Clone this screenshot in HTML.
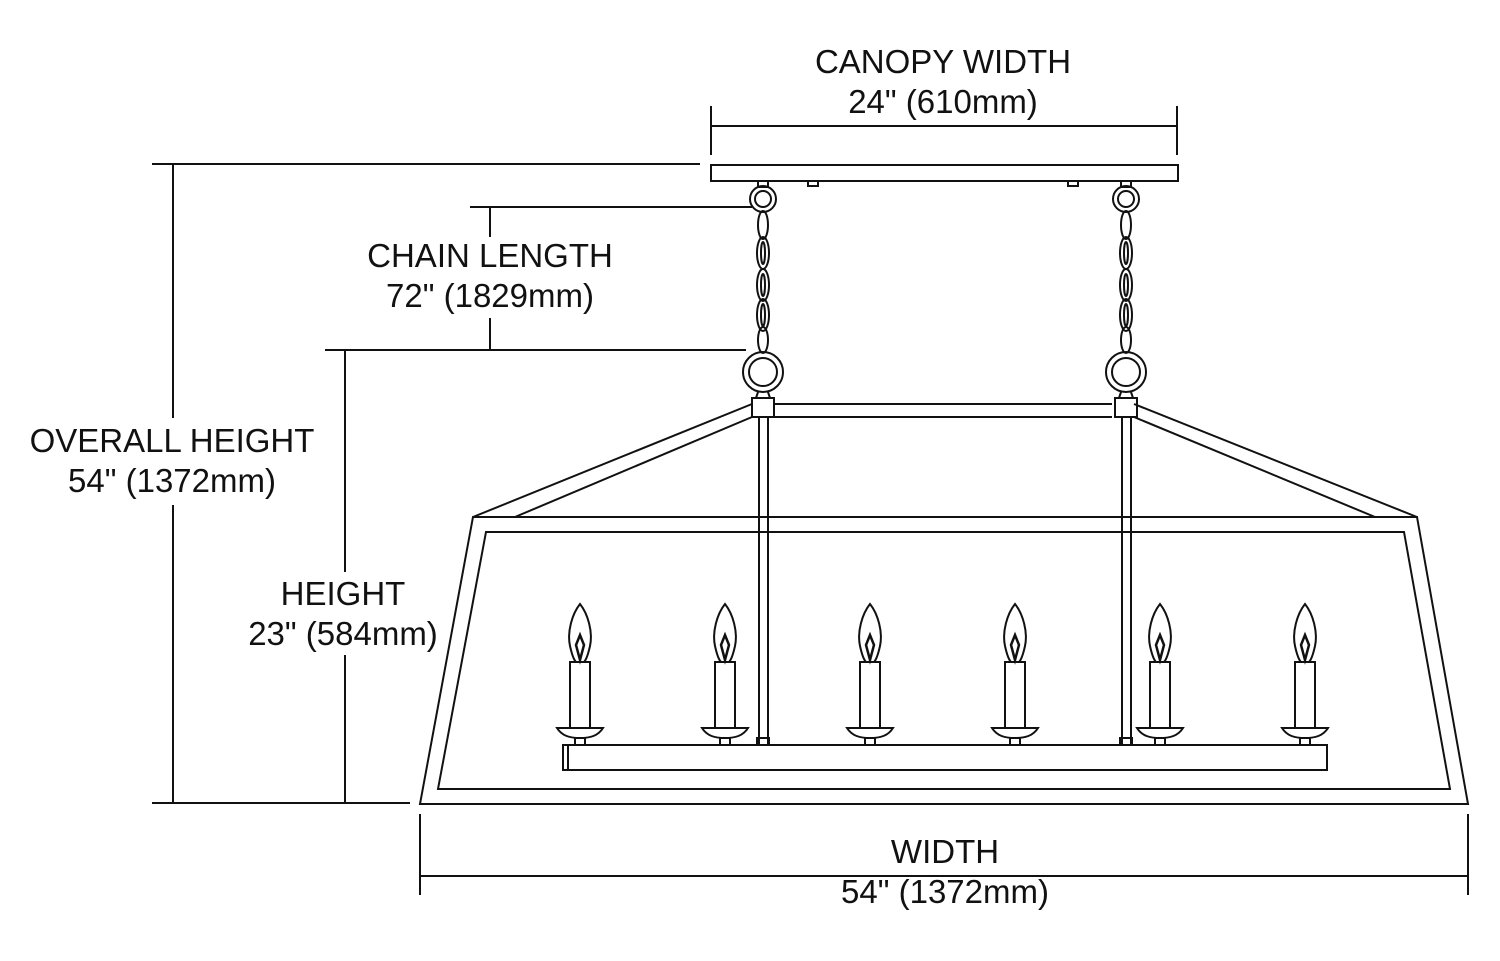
<!DOCTYPE html>
<html><head><style>
html,body{margin:0;padding:0;background:#fff;}
svg{display:block;}
text{font-family:"Liberation Sans",Arial,sans-serif;font-size:33px;fill:#111;text-anchor:middle;}
</style></head><body>
<svg width="1500" height="961" viewBox="0 0 1500 961" xmlns="http://www.w3.org/2000/svg">
<g stroke="#111" stroke-width="2" fill="none">
<line x1="711" y1="106" x2="711" y2="155"/><line x1="1177" y1="106" x2="1177" y2="155"/>
<line x1="711" y1="126" x2="1177" y2="126"/>
<line x1="152" y1="164" x2="700" y2="164"/>
<line x1="173" y1="164" x2="173" y2="418"/><line x1="173" y1="505" x2="173" y2="803"/>
<line x1="152" y1="803" x2="410" y2="803"/>
<line x1="470" y1="207" x2="752" y2="207"/>
<line x1="490" y1="207" x2="490" y2="237"/><line x1="490" y1="318" x2="490" y2="350"/>
<line x1="325" y1="350" x2="746" y2="350"/>
<line x1="345" y1="350" x2="345" y2="572"/><line x1="345" y1="655" x2="345" y2="803"/>
<line x1="420" y1="814" x2="420" y2="895"/><line x1="1468" y1="814" x2="1468" y2="895"/>
<line x1="420" y1="876" x2="1468" y2="876"/>
<rect x="711" y="165" width="467" height="16"/>
<rect x="808" y="181" width="10" height="5"/><rect x="1068" y="181" width="10" height="5"/>
<g id="ch">
<rect x="758" y="181" width="10" height="6"/>
<circle cx="763" cy="199" r="13"/><circle cx="763" cy="199" r="8"/>
<ellipse cx="763" cy="225" rx="5" ry="14"/>
<ellipse cx="763" cy="253" rx="6" ry="16"/><ellipse cx="763" cy="253" rx="2" ry="11"/>
<ellipse cx="763" cy="285" rx="6" ry="16"/><ellipse cx="763" cy="285" rx="2" ry="11"/>
<ellipse cx="763" cy="315" rx="6" ry="16"/><ellipse cx="763" cy="315" rx="2" ry="11"/>
<ellipse cx="763" cy="340" rx="5" ry="13"/>
<circle cx="763" cy="372" r="20"/><circle cx="763" cy="372" r="14"/>
<path d="M758 392 L756 398 L770 398 L768 392"/>
<rect x="752" y="398" width="22" height="19"/>
<rect x="759" y="417" width="9" height="328"/>
<rect x="757" y="738" width="12" height="7"/>
</g>
<use href="#ch" x="1125" y="0" transform="translate(-762 0)"/>
<line x1="774" y1="404" x2="1112" y2="404"/><line x1="774" y1="417" x2="1112" y2="417"/>
<line x1="752" y1="404" x2="473" y2="517"/><line x1="752" y1="417" x2="515" y2="517"/>
<line x1="1134" y1="404" x2="1417" y2="517"/><line x1="1134" y1="417" x2="1375" y2="517"/>
<polygon points="473,517 1417,517 1468,804 420,804"/>
<polygon points="486,532 1404,532 1450,789 438,789"/>
<rect x="563" y="745" width="764" height="25"/>
<line x1="568" y1="745" x2="568" y2="770"/>
<g id="cd">
<path d="M580 604 C572 614 567 632 570 646 C572 655 574 660 576 662 L584 662 C586 660 588 655 590 646 C593 632 588 614 580 604 Z"/>
<path d="M580 635 L576 645 L580 660 L584 645 Z" stroke-width="2.5"/>
<rect x="570" y="662" width="20" height="66"/>
<path d="M557 728 L603 728 C598 736 590 738 580 738 C570 738 562 736 557 728 Z"/>
<rect x="575" y="738" width="10" height="7"/>
</g>
<use href="#cd" x="145"/><use href="#cd" x="290"/><use href="#cd" x="435"/><use href="#cd" x="580"/><use href="#cd" x="725"/>
</g>
<rect x="835" y="878" width="220" height="30" fill="#fff"/>
<text x="943" y="73">CANOPY WIDTH</text>
<text x="943" y="113">24" (610mm)</text>
<text x="490" y="267">CHAIN LENGTH</text>
<text x="490" y="307">72" (1829mm)</text>
<text x="172" y="452">OVERALL HEIGHT</text>
<text x="172" y="492">54" (1372mm)</text>
<text x="343" y="605">HEIGHT</text>
<text x="343" y="645">23" (584mm)</text>
<text x="945" y="863">WIDTH</text>
<text x="945" y="903">54" (1372mm)</text>
</svg>
</body></html>
